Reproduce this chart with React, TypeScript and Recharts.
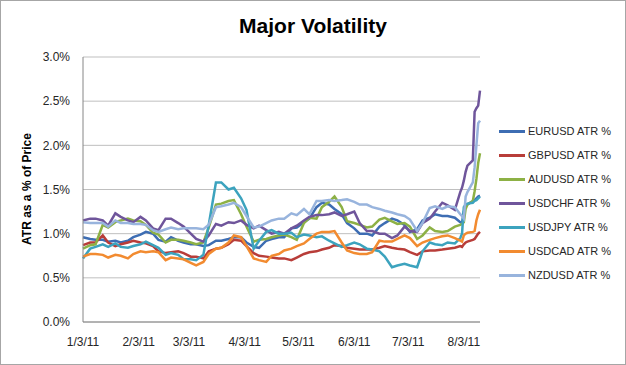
import React from 'react';
import { LineChart, Line, XAxis, YAxis, CartesianGrid } from 'recharts';

// day offsets from 1/3/11 (weekday samples)
const days = [0, 4, 7, 11, 14, 18, 21, 25, 28, 32, 35, 39, 42, 46, 49, 53, 56, 60, 63, 67, 70, 74, 77, 81, 84, 88, 91, 95, 98, 102, 105, 109, 112, 116, 119, 123, 126, 130, 133, 137, 140, 144, 147, 151, 154, 158, 161, 165, 168, 172, 175, 179, 182, 186, 189, 193, 196, 200, 203, 207, 210, 211, 212, 213, 214, 217, 218, 219, 220, 221];

const tickDays = [0, 31, 59, 90, 120, 151, 181, 212];
const tickLabels = ['1/3/11', '2/3/11', '3/3/11', '4/3/11', '5/3/11', '6/3/11', '7/3/11', '8/3/11'];
const yTicks = [0, 0.5, 1, 1.5, 2, 2.5, 3];

const eurusd = [0.96, 0.94, 0.93, 0.93, 0.91, 0.92, 0.90, 0.92, 0.96, 0.99, 1.02, 1.00, 0.93, 0.91, 0.96, 0.92, 0.90, 0.88, 0.88, 0.86, 0.87, 0.92, 0.92, 0.94, 0.96, 0.96, 0.90, 0.85, 0.84, 0.92, 0.94, 0.96, 0.96, 1.06, 1.07, 1.13, 1.17, 1.30, 1.35, 1.33, 1.28, 1.22, 1.12, 1.06, 1.00, 1.00, 0.98, 1.08, 1.12, 1.17, 1.15, 1.10, 1.02, 1.05, 1.15, 1.18, 1.22, 1.20, 1.20, 1.18, 1.13, 1.12, 1.25, 1.30, 1.33, 1.37, 1.38, 1.40, 1.42, 1.43];
const gbpusd = [0.87, 0.90, 0.90, 0.98, 0.90, 0.86, 0.88, 0.90, 0.92, 0.90, 0.89, 0.86, 0.80, 0.78, 0.79, 0.80, 0.78, 0.74, 0.74, 0.72, 0.80, 0.83, 0.84, 0.88, 0.93, 0.92, 0.86, 0.78, 0.75, 0.74, 0.73, 0.72, 0.72, 0.70, 0.73, 0.77, 0.79, 0.80, 0.82, 0.84, 0.87, 0.86, 0.84, 0.83, 0.82, 0.82, 0.82, 0.84, 0.86, 0.84, 0.83, 0.82, 0.79, 0.76, 0.80, 0.81, 0.81, 0.82, 0.83, 0.84, 0.86, 0.85, 0.88, 0.90, 0.91, 0.93, 0.94, 0.97, 1.00, 1.02];
const audusd = [0.83, 0.87, 0.88, 1.10, 1.07, 1.13, 1.15, 1.17, 1.15, 1.14, 1.10, 1.01, 0.99, 0.90, 0.93, 0.93, 0.92, 0.90, 0.88, 0.90, 1.07, 1.33, 1.34, 1.37, 1.38, 1.22, 1.08, 0.91, 0.93, 0.94, 0.96, 0.98, 0.99, 0.96, 0.93, 1.12, 1.18, 1.17, 1.30, 1.36, 1.42, 1.30, 1.14, 1.12, 1.10, 1.07, 1.08, 1.16, 1.18, 1.14, 1.11, 1.12, 1.08, 0.94, 0.98, 1.07, 1.03, 1.02, 1.03, 1.08, 1.10, 1.11, 1.13, 1.28, 1.33, 1.37, 1.48, 1.62, 1.80, 1.91];
const usdchf = [1.15, 1.17, 1.17, 1.15, 1.09, 1.23, 1.19, 1.15, 1.13, 1.19, 1.15, 1.06, 1.04, 1.17, 1.17, 1.12, 1.08, 1.00, 0.94, 0.91, 0.98, 1.11, 1.09, 1.13, 1.12, 1.15, 1.10, 1.06, 1.09, 1.04, 1.00, 1.02, 1.00, 1.06, 1.09, 1.15, 1.19, 1.21, 1.21, 1.22, 1.24, 1.20, 1.22, 1.25, 1.12, 1.03, 1.03, 1.00, 1.00, 0.95, 0.98, 1.08, 1.03, 1.02, 1.12, 1.17, 1.25, 1.35, 1.32, 1.27, 1.47, 1.52, 1.60, 1.70, 1.77, 1.83, 2.38, 2.42, 2.45, 2.62];
const usdjpy = [0.72, 0.83, 0.85, 0.88, 0.85, 0.89, 0.85, 0.84, 0.86, 0.88, 0.91, 0.87, 0.84, 0.76, 0.78, 0.76, 0.71, 0.71, 0.70, 0.76, 1.10, 1.58, 1.58, 1.50, 1.52, 1.40, 1.27, 0.83, 0.92, 1.02, 1.04, 1.00, 1.00, 1.01, 0.96, 0.99, 0.98, 0.96, 0.97, 0.92, 0.89, 0.85, 0.87, 0.90, 0.88, 0.83, 0.82, 0.80, 0.74, 0.62, 0.64, 0.66, 0.64, 0.62, 0.80, 0.90, 0.88, 0.87, 0.90, 0.89, 0.95, 1.00, 1.30, 1.33, 1.34, 1.35, 1.37, 1.38, 1.40, 1.42];
const usdcad = [0.74, 0.77, 0.77, 0.76, 0.73, 0.76, 0.75, 0.72, 0.77, 0.80, 0.79, 0.80, 0.79, 0.70, 0.73, 0.72, 0.71, 0.67, 0.64, 0.68, 0.77, 0.83, 0.84, 0.90, 0.98, 0.96, 0.86, 0.72, 0.70, 0.68, 0.75, 0.77, 0.81, 0.83, 0.86, 0.89, 0.94, 1.00, 1.02, 1.02, 1.03, 0.90, 0.81, 0.78, 0.77, 0.77, 0.79, 0.92, 0.91, 0.91, 0.94, 0.98, 0.95, 0.86, 0.90, 0.93, 0.95, 0.97, 0.98, 0.95, 0.92, 0.91, 0.98, 1.00, 1.01, 1.02, 1.03, 1.15, 1.22, 1.27];
const nzdusd = [1.13, 1.12, 1.12, 1.12, 1.08, 1.15, 1.12, 1.12, 1.11, 1.11, 1.10, 1.04, 1.02, 1.05, 1.07, 1.05, 1.06, 1.06, 1.06, 1.05, 1.10, 1.30, 1.31, 1.33, 1.35, 1.30, 1.20, 1.07, 1.08, 1.12, 1.15, 1.17, 1.17, 1.23, 1.21, 1.28, 1.22, 1.37, 1.37, 1.38, 1.37, 1.38, 1.39, 1.36, 1.33, 1.33, 1.30, 1.28, 1.26, 1.24, 1.22, 1.20, 1.16, 1.03, 1.12, 1.29, 1.31, 1.28, 1.31, 1.30, 1.22, 1.20, 1.17, 1.42, 1.47, 1.58, 1.75, 2.00, 2.25, 2.28];

const seriesNames = ['EURUSD ATR %', 'GBPUSD ATR %', 'AUDUSD ATR %', 'USDCHF ATR %', 'USDJPY ATR %', 'USDCAD ATR %', 'NZDUSD ATR %'];
const seriesValues = [eurusd, gbpusd, audusd, usdchf, usdjpy, usdcad, nzdusd];
const seriesColors = ['#3D6DB3', '#B83D39', '#8DB145', '#6F559B', '#3CA3BE', '#F28B30', '#98B4DD'];

const rows = days.map((d, i) => {
  const r: Record<string, number> = { d };
  seriesNames.forEach((n, k) => {
    r[n] = seriesValues[k][i];
  });
  return r;
});

const font = '"Liberation Sans", Arial, sans-serif';

export default function App() {
  return (
    <div
      style={{
        position: 'absolute',
        left: 0,
        top: 0,
        width: 626,
        height: 365,
        background: '#fff',
        boxSizing: 'border-box',
        border: '1px solid #a6a6a6',
        fontFamily: font,
        color: '#000',
      }}
    >
      <div style={{ position: 'absolute', left: -1, top: -1 }}>
        <LineChart width={626} height={365} data={rows} margin={{ top: 57, right: 146, bottom: 13, left: 0 }}>
          <CartesianGrid vertical={false} stroke="#bfbfbf" strokeWidth={1} />
          <XAxis
            dataKey="d"
            type="number"
            domain={[0, 221]}
            ticks={tickDays}
            interval={0}
            tickFormatter={(v: number) => tickLabels[tickDays.indexOf(v)]}
            tickLine={false}
            axisLine={{ stroke: '#868686' }}
            tick={{ fontSize: 12, fill: '#262626', fontFamily: font }}
            height={30}
            tickMargin={9}
          />
          <YAxis
            type="number"
            domain={[0, 3]}
            ticks={yTicks}
            interval={0}
            tickFormatter={(v: number) => v.toFixed(1) + '%'}
            width={83}
            tickLine={false}
            axisLine={{ stroke: '#868686' }}
            tick={{ fontSize: 12, fill: '#262626', fontFamily: font }}
            tickMargin={7}
          />
          {seriesNames.map((n, k) => (
            <Line
              key={n}
              type="linear"
              dataKey={n}
              stroke={seriesColors[k]}
              strokeWidth={2.5}
              dot={false}
              activeDot={false}
              isAnimationActive={false}
            />
          ))}
        </LineChart>
      </div>
      <div
        style={{
          position: 'absolute',
          left: -1,
          top: 13,
          width: 626,
          textAlign: 'center',
          fontSize: 21,
          fontWeight: 'bold',
        }}
      >
        Major Volatility
      </div>
      <div
        style={{
          position: 'absolute',
          left: 26,
          top: 188,
          transform: 'translate(-50%, -50%) rotate(-90deg)',
          whiteSpace: 'nowrap',
          fontSize: 12,
          fontWeight: 'bold',
        }}
      >
        ATR as a % of Price
      </div>
      <div style={{ position: 'absolute', left: 498, top: 118 }}>
        {seriesNames.map((n, k) => (
          <div key={n} style={{ display: 'flex', alignItems: 'center', height: 24 }}>
            <div style={{ width: 26, height: 3, background: seriesColors[k] }} />
            <span style={{ marginLeft: 3, fontSize: 11, color: '#262626', whiteSpace: 'nowrap' }}>{n}</span>
          </div>
        ))}
      </div>
    </div>
  );
}
